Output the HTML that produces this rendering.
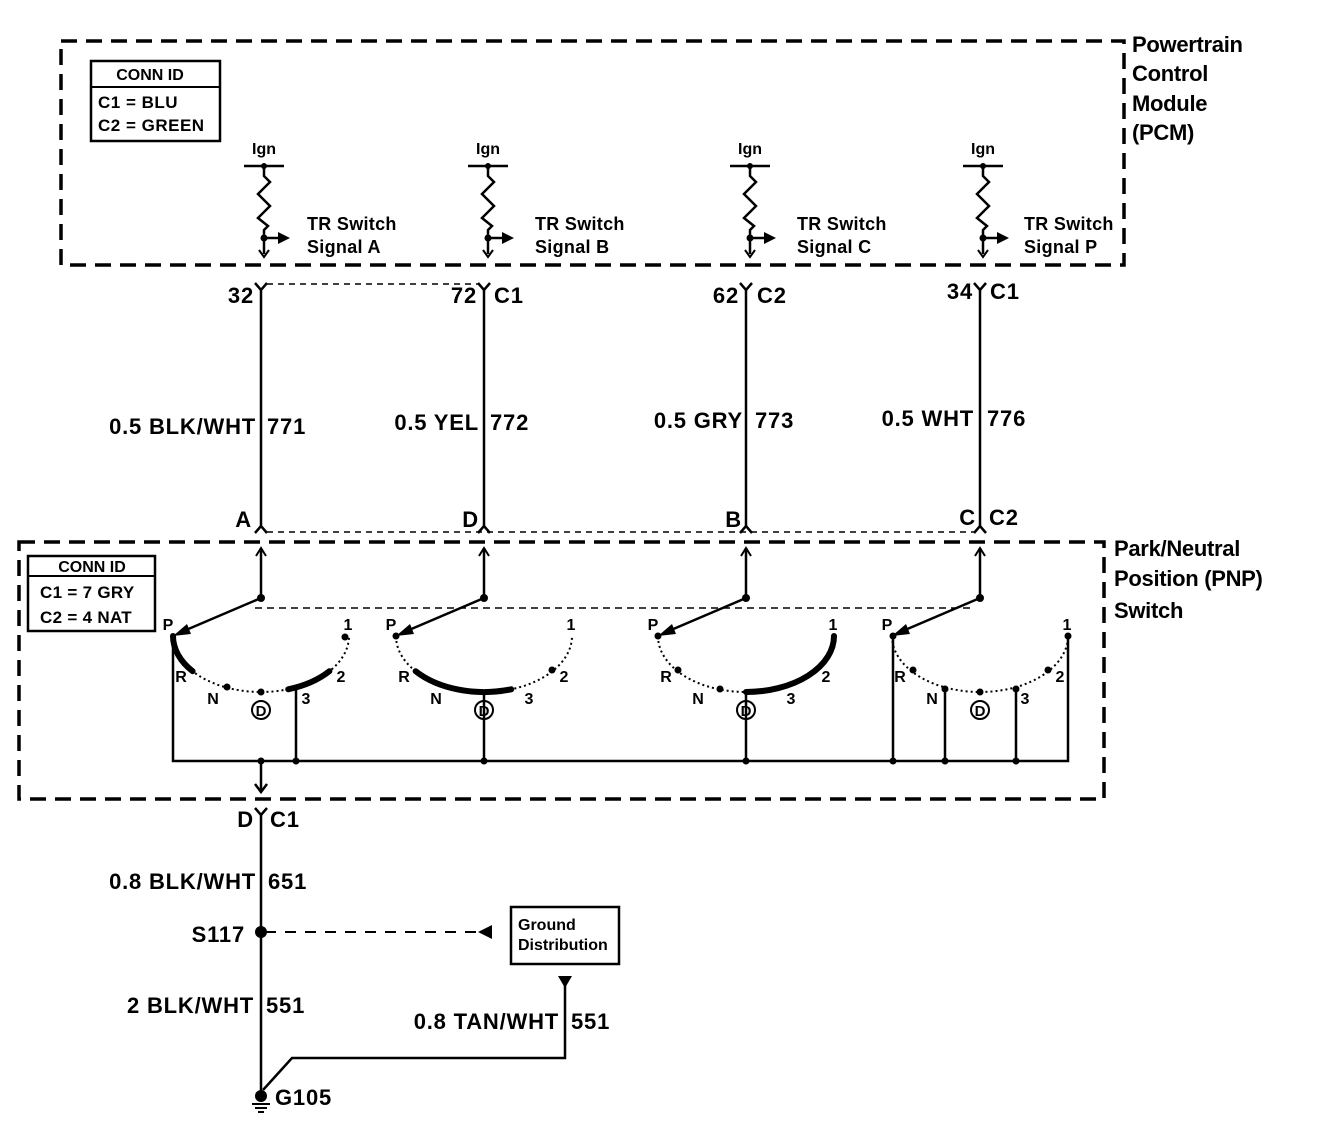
<!DOCTYPE html>
<html><head><meta charset="utf-8"><style>
html,body{margin:0;padding:0;background:#fff}
svg{display:block}
text{font-family:"Liberation Sans",Arial,sans-serif;font-weight:bold;fill:#000}
</style></head><body>
<svg width="1328" height="1136" viewBox="0 0 1328 1136" xmlns="http://www.w3.org/2000/svg">
<defs>
<g id="ign">
  <text x="0" y="154" font-size="16" text-anchor="middle">Ign</text>
  <line x1="-20" y1="166" x2="20" y2="166" stroke="#000" stroke-width="2.5"/>
  <circle cx="0" cy="166" r="3"/>
  <polyline points="0,166 0,176 6,182 -6,194 6,206 -6,218 4,226 0,230 0,254" fill="none" stroke="#000" stroke-width="2.5"/>
  <circle cx="0" cy="238" r="3.5"/>
  <line x1="0" y1="238" x2="16" y2="238" stroke="#000" stroke-width="2.5"/>
  <path d="M14,232 L26,238 L14,244 z"/>
  <polyline points="-5,250 0,257 5,250" fill="none" stroke="#000" stroke-width="2"/>
</g>
<g id="sw">
  <line x1="0" y1="548" x2="0" y2="598" stroke="#000" stroke-width="2.5"/>
  <polyline points="-5,556 0,548 5,556" fill="none" stroke="#000" stroke-width="2"/>
  <circle cx="0" cy="598" r="4"/>
  <line x1="0" y1="598" x2="-82" y2="633" stroke="#000" stroke-width="2.5"/>
  <path d="M-88,636 L-74,624 L-70,634 z"/>
  <path d="M-88,636 A88 56 0 0 0 88 636" fill="none" stroke="#000" stroke-width="2" stroke-dasharray="2 3"/>
  <text x="-93" y="630" font-size="16" text-anchor="middle">P</text>
  <text x="87" y="630" font-size="16" text-anchor="middle">1</text>
  <text x="-80" y="682" font-size="16" text-anchor="middle">R</text>
  <text x="80" y="682" font-size="16" text-anchor="middle">2</text>
  <text x="-48" y="704" font-size="16" text-anchor="middle">N</text>
  <text x="45" y="704" font-size="16" text-anchor="middle">3</text>
  <circle cx="0" cy="710" r="9" fill="none" stroke="#000" stroke-width="2"/>
  <text x="0" y="716" font-size="15" text-anchor="middle">D</text>
</g>
</defs>

<rect x="61" y="41" width="1063" height="224" fill="none" stroke="#000" stroke-width="3.5" stroke-dasharray="16 9"/>
<g font-size="22" letter-spacing="-0.3">
<text x="1132" y="52">Powertrain</text>
<text x="1132" y="81">Control</text>
<text x="1132" y="111">Module</text>
<text x="1132" y="140">(PCM)</text>
</g>
<rect x="91" y="61" width="129" height="80" fill="none" stroke="#000" stroke-width="2.5"/>
<line x1="91" y1="87" x2="220" y2="87" stroke="#000" stroke-width="2"/>
<text x="150" y="80" font-size="16" text-anchor="middle">CONN ID</text>
<text x="98" y="108" font-size="17" letter-spacing="0.5">C1 = BLU</text>
<text x="98" y="131" font-size="17" letter-spacing="0.5">C2 = GREEN</text>

<use href="#ign" x="264" y="0"/>
<use href="#ign" x="488" y="0"/>
<use href="#ign" x="750" y="0"/>
<use href="#ign" x="983" y="0"/>
<g font-size="18" letter-spacing="0.3">
<text x="307" y="230">TR Switch</text><text x="307" y="253">Signal A</text>
<text x="535" y="230">TR Switch</text><text x="535" y="253">Signal B</text>
<text x="797" y="230">TR Switch</text><text x="797" y="253">Signal C</text>
<text x="1024" y="230">TR Switch</text><text x="1024" y="253">Signal P</text>
</g>

<g stroke="#000" stroke-width="2.5" fill="none">
<line x1="261" y1="290" x2="261" y2="527"/>
<line x1="484" y1="290" x2="484" y2="527"/>
<line x1="746" y1="290" x2="746" y2="527"/>
<line x1="980" y1="290" x2="980" y2="527"/>
<polyline points="255,283 261,290 267,283"/>
<polyline points="478,283 484,290 490,283"/>
<polyline points="740,283 746,290 752,283"/>
<polyline points="974,283 980,290 986,283"/>
<polyline points="255,533 261,526 267,533"/>
<polyline points="478,533 484,526 490,533"/>
<polyline points="740,533 746,526 752,533"/>
<polyline points="974,533 980,526 986,533"/>
</g>
<line x1="267" y1="284" x2="478" y2="284" stroke="#000" stroke-width="1.5" stroke-dasharray="6 5"/>
<line x1="267" y1="532" x2="974" y2="532" stroke="#000" stroke-width="1.5" stroke-dasharray="6 5"/>
<g font-size="22" letter-spacing="0.8">
<text x="254" y="303" text-anchor="end">32</text>
<text x="477" y="303" text-anchor="end">72</text><text x="494" y="303">C1</text>
<text x="739" y="303" text-anchor="end">62</text><text x="757" y="303">C2</text>
<text x="973" y="299" text-anchor="end">34</text><text x="990" y="299">C1</text>
<text x="256" y="434" text-anchor="end">0.5 BLK/WHT</text><text x="267" y="434">771</text>
<text x="479" y="430" text-anchor="end">0.5 YEL</text><text x="490" y="430">772</text>
<text x="743" y="428" text-anchor="end">0.5 GRY</text><text x="755" y="428">773</text>
<text x="974" y="426" text-anchor="end">0.5 WHT</text><text x="987" y="426">776</text>
<text x="252" y="527" text-anchor="end">A</text>
<text x="479" y="527" text-anchor="end">D</text>
<text x="742" y="527" text-anchor="end">B</text>
<text x="976" y="525" text-anchor="end">C</text><text x="989" y="525">C2</text>
</g>

<rect x="19" y="542" width="1085" height="257" fill="none" stroke="#000" stroke-width="3.5" stroke-dasharray="16 9"/>
<g font-size="22" letter-spacing="-0.3">
<text x="1114" y="556">Park/Neutral</text>
<text x="1114" y="586">Position (PNP)</text>
<text x="1114" y="618">Switch</text>
</g>
<rect x="28" y="556" width="127" height="75" fill="none" stroke="#000" stroke-width="2.5"/>
<line x1="28" y1="576" x2="155" y2="576" stroke="#000" stroke-width="2"/>
<text x="92" y="572" font-size="16" text-anchor="middle">CONN ID</text>
<text x="40" y="598" font-size="17" letter-spacing="0.3">C1 = 7 GRY</text>
<text x="40" y="623" font-size="17" letter-spacing="0.3">C2 = 4 NAT</text>

<line x1="255" y1="608" x2="975" y2="608" stroke="#000" stroke-width="1.5" stroke-dasharray="7 5"/>

<use href="#sw" x="261" y="0"/>
<use href="#sw" x="484" y="0"/>
<use href="#sw" x="746" y="0"/>
<use href="#sw" x="980" y="0"/>

<g stroke="#000" stroke-width="6" fill="none" stroke-linecap="round">
<path transform="translate(261,0)" d="M-88,636 A88 56 0 0 0 -68.4 671.2"/>
<path transform="translate(261,0)" d="M27.2,689.3 A88 56 0 0 0 68.4 671.2"/>
<path transform="translate(484,0)" d="M-68.4,671.2 A88 56 0 0 0 27.2 689.3"/>
<path transform="translate(746,0)" d="M0,692 A88 56 0 0 0 88 636"/>
</g>
<g fill="#000">
<circle cx="227" cy="687" r="3.5"/><circle cx="261" cy="692" r="3.5"/><circle cx="345" cy="637" r="3.5"/>
<circle cx="396" cy="636" r="3.5"/><circle cx="552" cy="670" r="3.5"/>
<circle cx="658" cy="636" r="3.5"/><circle cx="678" cy="670" r="3.5"/><circle cx="720" cy="689" r="3.5"/>
<circle cx="893" cy="636" r="3.5"/><circle cx="913" cy="670" r="3.5"/><circle cx="945" cy="689" r="3.5"/><circle cx="980" cy="692" r="3.5"/><circle cx="1016" cy="689" r="3.5"/><circle cx="1048" cy="670" r="3.5"/><circle cx="1068" cy="636" r="3.5"/>
</g>
<g stroke="#000" stroke-width="2.5" fill="none">
<polyline points="173,636 173,761 1068,761 1068,636"/>
<line x1="296" y1="689" x2="296" y2="761"/>
<line x1="484" y1="692" x2="484" y2="761"/>
<line x1="746" y1="692" x2="746" y2="761"/>
<line x1="893" y1="636" x2="893" y2="761"/>
<line x1="945" y1="689" x2="945" y2="761"/>
<line x1="1016" y1="689" x2="1016" y2="761"/>
<line x1="261" y1="761" x2="261" y2="792"/>
<polyline points="255,784 261,792 267,784"/>
</g>
<g fill="#000">
<circle cx="261" cy="761" r="3.5"/><circle cx="296" cy="761" r="3.5"/><circle cx="484" cy="761" r="3.5"/><circle cx="746" cy="761" r="3.5"/><circle cx="893" cy="761" r="3.5"/><circle cx="945" cy="761" r="3.5"/><circle cx="1016" cy="761" r="3.5"/>
</g>

<g stroke="#000" stroke-width="2.5" fill="none">
<polyline points="255,808 261,815 267,808"/>
<line x1="261" y1="815" x2="261" y2="1096"/>
<polyline points="565,985 565,1058 292,1058 263,1090"/>
<rect x="511" y="907" width="108" height="57"/>
</g>
<line x1="265" y1="932" x2="480" y2="932" stroke="#000" stroke-width="2" stroke-dasharray="11 9"/>
<path d="M478,932 L492,925 L492,939 z"/>
<path d="M558,976 L572,976 L565,988 z"/>
<circle cx="261" cy="932" r="6"/>
<circle cx="261" cy="1096" r="6"/>
<g stroke="#000" stroke-width="2"><line x1="252" y1="1104" x2="270" y2="1104"/><line x1="255" y1="1108" x2="267" y2="1108"/><line x1="258" y1="1112" x2="264" y2="1112"/></g>
<g font-size="22" letter-spacing="0.8">
<text x="254" y="827" text-anchor="end">D</text><text x="270" y="827">C1</text>
<text x="256" y="889" text-anchor="end">0.8 BLK/WHT</text><text x="268" y="889">651</text>
<text x="245" y="942" text-anchor="end">S117</text>
<text x="254" y="1013" text-anchor="end">2 BLK/WHT</text><text x="266" y="1013">551</text>
<text x="559" y="1029" text-anchor="end">0.8 TAN/WHT</text><text x="571" y="1029">551</text>
<text x="275" y="1105">G105</text>
</g>
<text x="518" y="930" font-size="16">Ground</text>
<text x="518" y="950" font-size="16">Distribution</text>
</svg>
</body></html>
